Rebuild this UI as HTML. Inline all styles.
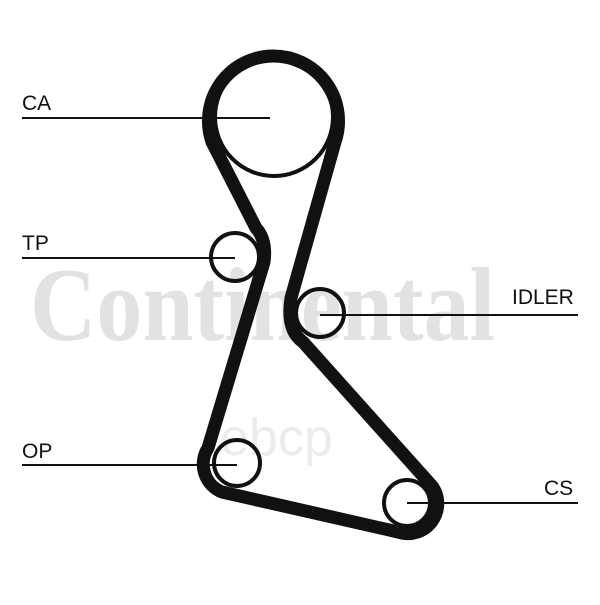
<!DOCTYPE html>
<html><head><style>
body{margin:0;background:#fff;width:600px;height:600px;overflow:hidden}
</style></head><body>
<svg width="600" height="600" viewBox="0 0 600 600" xmlns="http://www.w3.org/2000/svg">
<rect width="600" height="600" fill="#fff"/>
<text x="30" y="340" font-family="Liberation Serif, serif" font-weight="bold" font-size="105" fill="#e2e2e2" textLength="465" lengthAdjust="spacingAndGlyphs">Continental</text>
<text x="220" y="455" font-family="Liberation Sans, sans-serif" font-size="52" fill="#ececec">ebcp</text>
<g fill="none" stroke="#111">
<path d="M212,142 A65,65 0 1 1 335,142 L291,298 Q286,330 303,342 L432,486 A30,30 0 0 1 398,532 L222,492 A30,30 0 0 1 208,448 L264,262 Q267,240 256,228 Z" stroke-width="13" stroke-linejoin="round"/>
<circle cx="274" cy="117" r="59" stroke-width="4"/>
<circle cx="235" cy="257" r="24" stroke-width="4"/>
<circle cx="320" cy="313" r="24" stroke-width="4"/>
<circle cx="237" cy="463" r="23" stroke-width="4"/>
<circle cx="407" cy="503" r="23" stroke-width="4"/>
<g stroke-width="2">
<line x1="22" y1="118" x2="270" y2="118"/>
<line x1="22" y1="258" x2="235" y2="258"/>
<line x1="22" y1="465" x2="237" y2="465"/>
<line x1="320" y1="315" x2="578" y2="315"/>
<line x1="407" y1="503" x2="578" y2="503"/>
</g></g>
<g font-family="Liberation Sans, sans-serif" font-size="21" fill="#111">
<text x="22" y="110">CA</text>
<text x="22" y="250">TP</text>
<text x="22" y="458">OP</text>
<text x="512" y="304">IDLER</text>
<text x="544" y="495">CS</text>
</g>
</svg>
</body></html>
